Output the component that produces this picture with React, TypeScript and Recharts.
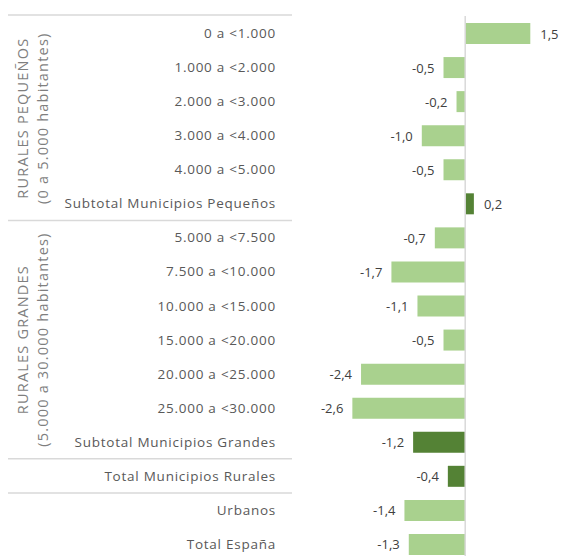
import React from 'react';
import { BarChart, Bar, XAxis, YAxis, Cell, LabelList, ReferenceLine } from 'recharts';

const categories = [
  '0 a <1.000',
  '1.000 a <2.000',
  '2.000 a <3.000',
  '3.000 a <4.000',
  '4.000 a <5.000',
  'Subtotal Municipios Pequeños',
  '5.000 a <7.500',
  '7.500 a <10.000',
  '10.000 a <15.000',
  '15.000 a <20.000',
  '20.000 a <25.000',
  '25.000 a <30.000',
  'Subtotal Municipios Grandes',
  'Total Municipios Rurales',
  'Urbanos',
  'Total España',
];

const values = [1.5, -0.5, -0.2, -1.0, -0.5, 0.2, -0.7, -1.7, -1.1, -0.5, -2.4, -2.6, -1.2, -0.4, -1.4, -1.3];

// rows drawn in the darker green
const totals = ['Subtotal Municipios Pequeños', 'Subtotal Municipios Grandes', 'Total Municipios Rurales'];

// group captions: first row, number of rows, two lines
const groups = [
  { start: 0, rows: 6, lines: ['RURALES PEQUEÑOS', '(0 a 5.000 habitantes)'] },
  { start: 6, rows: 7, lines: ['RURALES GRANDES', '(5.000 a 30.000 habitantes)'] },
];

// separators drawn under these rows
const separatorsAfter = ['Subtotal Municipios Pequeños', 'Subtotal Municipios Grandes', 'Total Municipios Rurales'];

const data = categories.map((name, i) => ({ name, value: values[i] }));

const W = 563;
const H = 562;
const MARGIN = { top: 16, right: 11, bottom: 1, left: 0 };
const ROW = (H - MARGIN.top - MARGIN.bottom) / categories.length;
const LABEL_X = 276;
const LINE_X1 = 8;
const LINE_X2 = 292;
const FONT = '"Open Sans", "Noto Sans", sans-serif';

const fmt = (v: number) => v.toFixed(1).replace('.', ',');

const CategoryTick = (props: any) => {
  const { y, payload, index } = props;
  const name = payload.value as string;
  const group = groups.find((g) => g.start === index);
  return (
    <g>
      {index === 0 && (
        <line x1={LINE_X1} x2={LINE_X2} y1={y - ROW / 2 - 1} y2={y - ROW / 2 - 1} stroke="#d9d9d9" strokeWidth={1.5} />
      )}
      {separatorsAfter.includes(name) && (
        <line x1={LINE_X1} x2={LINE_X2} y1={y + ROW / 2} y2={y + ROW / 2} stroke="#d9d9d9" strokeWidth={1.5} />
      )}
      {group &&
        group.lines.map((t, k) => {
          const cx = 22 + k * 20;
          const cy = y + ((group.rows - 1) * ROW) / 2;
          return (
            <text
              key={t}
              x={cx}
              y={cy}
              transform={`rotate(-90, ${cx}, ${cy})`}
              textAnchor="middle"
              dominantBaseline="central"
              fill="#7f7f7f"
              fontSize={14.5}
              letterSpacing={1.2}
              fontFamily={FONT}
            >
              {t}
            </text>
          );
        })}
      <text
        x={LABEL_X}
        y={y}
        textAnchor="end"
        dominantBaseline="central"
        fill="#595959"
        fontSize={13.5}
        letterSpacing={0.75}
        fontFamily={FONT}
      >
        {name}
      </text>
    </g>
  );
};

const ValueLabel = (props: any) => {
  const { x, y, width, height, value } = props;
  const left = Math.min(x, x + width);
  const right = Math.max(x, x + width);
  const neg = value < 0;
  return (
    <text
      x={neg ? left - 9 : right + 10}
      y={y + height / 2}
      textAnchor={neg ? 'end' : 'start'}
      dominantBaseline="central"
      fill="#404040"
      fontSize={13}
      fontFamily={FONT}
    >
      {fmt(value)}
    </text>
  );
};

export default function App() {
  return (
    <div style={{ position: 'fixed', top: 0, left: 0, width: 563, height: 556, overflow: 'hidden', background: '#fff' }}>
      <BarChart width={W} height={H} data={data} layout="vertical" margin={MARGIN}>
        <XAxis type="number" domain={[-3, 2]} hide />
        <YAxis
          type="category"
          dataKey="name"
          width={335}
          axisLine={false}
          tickLine={false}
          interval={0}
          tick={<CategoryTick />}
        />
        <ReferenceLine x={0} stroke="#d9d9d9" strokeWidth={1.5} />
        <Bar dataKey="value" barSize={21} isAnimationActive={false}>
          {data.map((d) => (
            <Cell key={d.name} fill={totals.includes(d.name) ? '#548235' : '#a9d18e'} />
          ))}
          <LabelList dataKey="value" content={<ValueLabel />} />
        </Bar>
      </BarChart>
    </div>
  );
}
